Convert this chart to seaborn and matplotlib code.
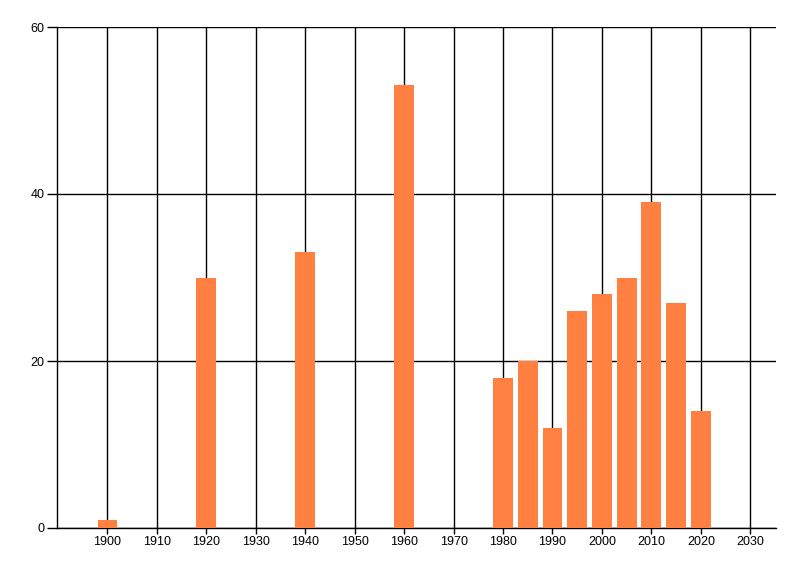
import matplotlib
matplotlib.use("Agg")
import matplotlib.pyplot as plt
import seaborn as sns
import pandas as pd

years = [1900, 1920, 1940, 1960, 1980, 1985, 1990, 1995, 2000, 2005, 2010, 2015, 2020]
counts = [1, 30, 33, 53, 18, 20, 12, 26, 28, 30, 39, 27, 14]
x_ticks = list(range(1900, 2031, 10))
y_ticks = [0, 20, 40, 60]

sns.set_style("white")
plt.rcParams['font.family'] = ['Liberation Sans', 'DejaVu Sans']

df = pd.DataFrame({"year": years, "count": counts})

fig = plt.figure(figsize=(8, 5.76), dpi=100)
ax = fig.add_axes([57/800, 48/576, (776-57)/800, (528-27)/576])

sns.barplot(data=df, x="year", y="count", native_scale=True, width=0.8,
            color="#FF8040", saturation=1, ax=ax, zorder=3)

ax.set_xlim(1889.8, 2035.2)
ax.set_ylim(0, 60)
ax.set_xticks(x_ticks)
ax.set_xticklabels([str(t) for t in x_ticks])
ax.set_yticks(y_ticks)
ax.set_yticklabels([str(t) for t in y_ticks])
ax.grid(True, color="black", linewidth=1)
ax.set_axisbelow(True)
for b in ax.patches:
    b.set_edgecolor("none")
    b.set_zorder(3)

ax.spines["top"].set_visible(False)
ax.spines["right"].set_visible(False)
ax.spines["left"].set_color("black")
ax.spines["bottom"].set_color("black")
ax.spines["left"].set_linewidth(1)
ax.spines["bottom"].set_linewidth(1)
ax.tick_params(axis="both", which="major", width=1, color="black",
               labelsize=9, labelcolor="black", bottom=True, left=True, pad=2)
ax.tick_params(axis="x", length=4)
ax.tick_params(axis="y", length=7)
ax.set_xlabel("")
ax.set_ylabel("")

fig.savefig("out.png", dpi=100)
